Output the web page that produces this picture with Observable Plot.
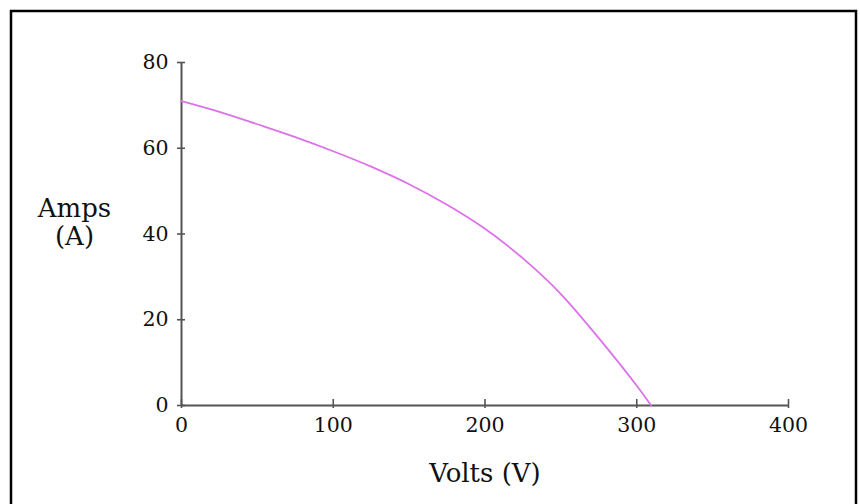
<!DOCTYPE html>
<html>
<head>
<meta charset="utf-8">
<script src="https://cdn.jsdelivr.net/npm/d3@7"></script>
<script src="https://cdn.jsdelivr.net/npm/@observablehq/plot@0.6"></script>
<style>
  html, body { margin: 0; padding: 0; background: #fff; }
  #chart { width: 860px; height: 504px; overflow: hidden; }
</style>
</head>
<body>
<div id="chart"></div>
<script>
// Data
const volts = [0, 25, 50, 75, 100, 125, 150, 175, 200, 225, 250, 275, 300, 309.5];
const amps  = [71, 68.5, 65.6, 62.6, 59.3, 55.7, 51.6, 46.8, 41.2, 34.3, 26.0, 15.7, 4.6, 0];
const xTicks = [0, 100, 200, 300, 400];
const yTicks = [0, 20, 40, 60, 80];
const xTitle = "Volts (V)";
const yTitle = "Amps\n(A)";

const curve = volts.map((v, i) => ({v, a: amps[i]}));
const font = "DejaVu Serif";

const plot = Plot.plot({
  width: 860,
  height: 504,
  marginLeft: 181,
  marginRight: 72,
  marginTop: 62,
  marginBottom: 99,
  style: {fontFamily: font, background: "#fff", overflow: "visible"},
  x: {domain: [0, 400], axis: null},
  y: {domain: [0, 80], axis: null},
  marks: [
    // axis lines
    Plot.ruleY([0], {x1: 0, x2: 400, stroke: "#555", strokeWidth: 2}),
    Plot.ruleX([0], {y1: 0, y2: 80, stroke: "#555", strokeWidth: 2}),
    // ticks
    Plot.ruleY(yTicks, {x1: 0, x2: 0, insetLeft: -4, insetRight: -4, stroke: "#555", strokeWidth: 1.6}),
    Plot.ruleX(xTicks, {y1: 0, y2: 0, insetTop: -6, insetBottom: -3, stroke: "#555", strokeWidth: 1.6}),
    // tick labels
    Plot.text(yTicks, {x: 0, y: d => d, dx: -13, text: d => String(d), textAnchor: "end",
      fontSize: 20.5, fill: "#111"}),
    Plot.text(xTicks, {x: d => d, y: 0, dy: 20, text: d => String(d),
      fontSize: 20.5, fill: "#111"}),
    // the curve
    Plot.line(curve, {x: "v", y: "a", curve: "catmull-rom", stroke: "#dc72e8", strokeWidth: 1.8}),
    // axis titles
    Plot.text([xTitle], {x: 200, y: 0, dy: 68, text: d => d, fontSize: 26, fill: "#111"}),
    Plot.text([yTitle], {x: 0, y: 42.7, dx: -107, text: d => d, fontSize: 26, lineHeight: 1.08, fill: "#111"})
  ]
});

// outer picture frame (left, top, right)
d3.select(plot).append("path")
  .attr("d", "M11,504 L11,11 L856,11 L856,504")
  .attr("fill", "none")
  .attr("stroke", "#000")
  .attr("stroke-width", 2.5);

document.getElementById("chart").appendChild(plot);
</script>
</body>
</html>
